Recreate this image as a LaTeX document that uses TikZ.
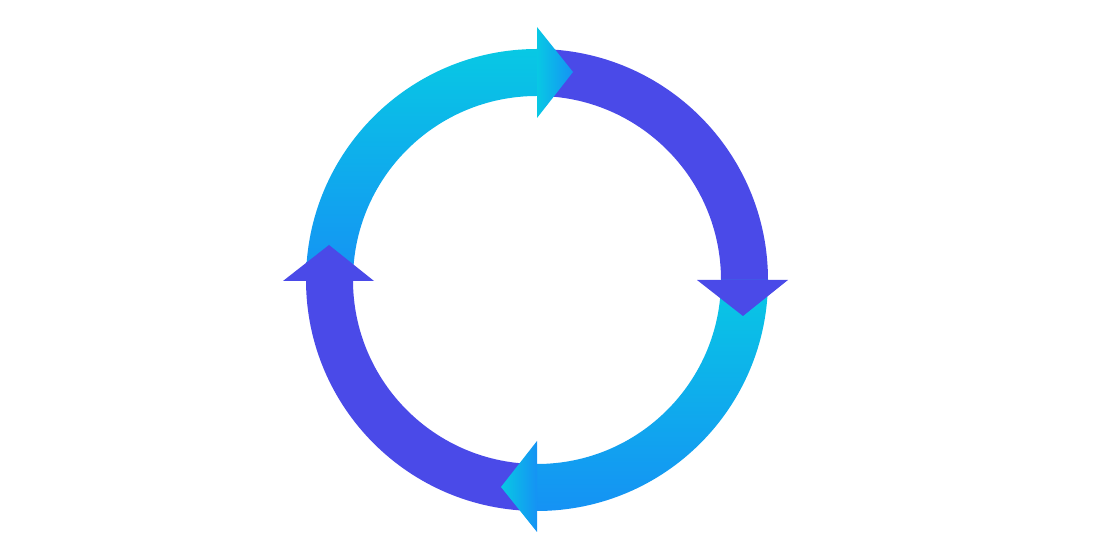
\documentclass[tikz,border=0pt]{standalone}
\usetikzlibrary{calc}
\definecolor{ringpurple}{HTML}{4A4AE8}
\definecolor{ringcyan}{HTML}{08C8E4}
\definecolor{ringblue}{HTML}{1592F4}

\begin{document}
\begin{tikzpicture}[
    x=0.02cm, y=0.02cm,
    solidpart/.style={fill=ringpurple},
    fadepart/.style={top color=ringcyan, bottom color=ringblue},
    headfade/.style={left color=ringcyan, right color=ringblue}
]
\useasboundingbox (0,0) rectangle (1096,560);
\coordinate (c) at (537,280);

% purple quarters
\fill[solidpart] ($(c)+(90:231)$) arc[start angle=90, end angle=0, radius=231]
    -- ($(c)+(0:184)$) arc[start angle=0, end angle=90, radius=184] -- cycle;
\fill[solidpart] ($(c)+(270:231)$) arc[start angle=270, end angle=180, radius=231]
    -- ($(c)+(180:184)$) arc[start angle=180, end angle=270, radius=184] -- cycle;

% shaded quarters
\shade[fadepart] ($(c)+(90:231)$) arc[start angle=90, end angle=180, radius=231]
    -- ($(c)+(180:184)$) arc[start angle=180, end angle=90, radius=184] -- cycle;
\shade[fadepart] ($(c)+(0:231)$) arc[start angle=0, end angle=-90, radius=231]
    -- ($(c)+(-90:184)$) arc[start angle=-90, end angle=0, radius=184] -- cycle;

% heads
\shade[headfade] (537,533) -- (573,488) -- (537,442) -- cycle;
\fill[solidpart] (697,280) -- (743,244) -- (788,280) -- cycle;
\shade[headfade] (537,119) -- (501,73) -- (537,28) -- cycle;
\fill[solidpart] (283,279) -- (329,315) -- (374,279) -- cycle;
\end{tikzpicture}
\end{document}
